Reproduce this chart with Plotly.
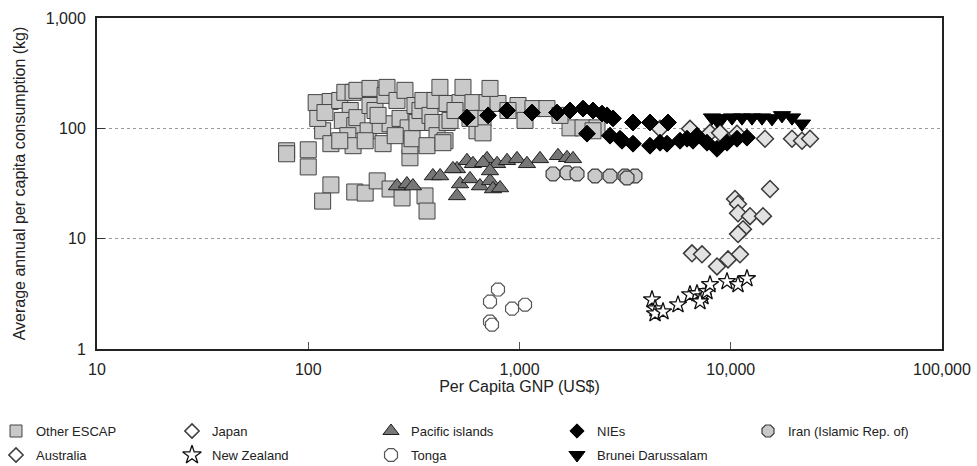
import plotly.graph_objects as go

# Per capita GNP (US$) and average annual per capita consumption (kg)
other_escap_gnp = [79, 79, 100, 100, 109, 127, 117, 128, 128, 117, 111, 120, 141, 149, 163,
                   158, 145, 166, 154, 170, 170, 163, 166, 141, 186, 196, 212, 196, 207, 192,
                   219, 231, 236, 244, 226, 214, 186, 244, 272, 263, 287, 297, 303, 303, 278,
                   320, 327, 258, 310, 338, 349, 357, 365, 377, 389, 398, 420, 407, 444, 454,
                   454, 365, 434, 469, 523, 540, 602, 629, 672, 702, 672, 791, 725, 583, 495,
                   984, 1158, 1349, 1734, 1998, 2328, 882, 1062, 1555, 2228]
other_escap_kg = [62.6, 58.8, 63.9, 44.7, 171, 175, 95, 72.6, 30.7, 21.9, 123, 139, 179, 212, 212,
                  145, 118, 106, 85.8, 125, 221, 69.6, 26.5, 77.2, 25.9, 230, 33.4, 161, 145, 95,
                  106, 199, 235, 110, 72.6, 131, 77.2, 28.2, 123, 179, 221, 101, 54.1, 69.6, 23.4,
                  161, 113, 85.8, 80.5, 145, 179, 24.4, 17.8, 131, 113, 179, 235, 85.8, 77.2, 168,
                  113, 69.6, 74.1, 118, 171, 235, 171, 95, 123, 171, 91, 168, 230, 123, 145,
                  161, 151, 151, 101, 101, 101, 145, 118, 131, 95]

japan_gnp = [4627, 6413, 7977, 8895, 10705, 14525, 19498, 21744, 23725]
japan_kg = [99, 99, 91, 91, 89.5, 80.5, 80.5, 77.2, 80.5]

pacific_gnp = [263, 293, 313, 389, 421, 506, 564, 602, 702, 783, 873, 973, 1085, 1250, 1521,
               1679, 1792, 506, 523, 583, 650, 725, 749, 809, 484, 672, 725]
pacific_kg = [30.0, 31.3, 30.0, 37.0, 37.0, 42.9, 50.8, 47.7, 52.9, 47.7, 50.8, 52.9, 47.7, 52.9, 56.4,
              54.1, 52.9, 24.4, 31.3, 34.8, 30.0, 33.4, 28.2, 28.8, 42.9, 48.7, 41.1]

nies_gnp = [564, 710, 873, 1146, 1505, 1734, 1998, 2228, 2458, 2771, 2087, 2682, 3057, 3446, 4147,
            5047, 3446, 4147, 4992, 5752, 6626, 7720, 8608, 9600, 10705, 11935, 2596, 2991, 4627,
            6207, 6922]
nies_kg = [125, 131, 145, 139, 139, 145, 151, 145, 136, 123, 89.5, 85.8, 77.2, 113, 113,
           113, 72.6, 69.6, 72.6, 77.2, 77.2, 74.1, 65.3, 74.1, 80.5, 82.3, 131, 80.5, 74.1,
           80.5, 85.8]

iran_gnp = [1441, 1679, 1872, 2278, 2682, 3157, 3522, 3228]
iran_kg = [38.6, 39.5, 38.6, 37.0, 37.0, 37.0, 37.0, 35.5]

australia_gnp = [15342, 10474, 10822, 10822, 12334, 14213, 11429, 10822, 6553, 7310, 8608, 9706, 11060]
australia_kg = [28.2, 22.9, 20.6, 17.0, 16.0, 16.0, 12.2, 11.0, 7.36, 7.21, 5.60, 6.49, 7.21]

nz_gnp = [4239, 4381, 4381, 4779, 5628, 6413, 6922, 7391, 7152, 7720, 7977, 9600, 10822, 11935]
nz_kg = [2.80, 2.32, 2.09, 2.18, 2.52, 3.11, 3.18, 2.98, 2.69, 3.32, 3.84, 4.09, 3.84, 4.35]

tonga_gnp = [791, 725, 922, 1062, 725, 741]
tonga_kg = [3.46, 2.69, 2.32, 2.52, 1.77, 1.66]

brunei_gnp = [8153, 8608, 9091, 10137, 11305, 12605, 14060, 15680, 17480, 19498, 21744]
brunei_kg = [125, 118, 123, 125, 125, 125, 125, 123, 131, 125, 110]

x_tick_vals = [10, 100, 1000, 10000, 100000]
x_tick_text = ["10", "100", "1,000", "10,000", "100,000"]
y_tick_vals = [1, 10, 100, 1000]
y_tick_text = ["1", "10", "100", "1,000"]

FONT = "Liberation Sans, Arial, sans-serif"
W, H = 977, 466

# name, x, y, symbol, size, fill, edge, edge width, key fill, key size
series = [
    ("Other ESCAP", other_escap_gnp, other_escap_kg, "square", 16, "#c9c9c9", "#444444", 1, "#c9c9c9", 12),
    ("Japan", japan_gnp, japan_kg, "diamond", 13, "#e2e2e2", "#3a3a3a", 1.5, "#ffffff", 11),
    ("Pacific islands", pacific_gnp, pacific_kg, "triangle-up", 15, "#777777", "#1e1e1e", 1, "#777777", 14),
    ("NIEs", nies_gnp, nies_kg, "diamond", 13, "#000000", "#000000", 1, "#000000", 11),
    ("Iran (Islamic Rep. of)", iran_gnp, iran_kg, "octagon", 15, "#c9c9c9", "#3a3a3a", 1.2, "#c9c9c9", 13),
    ("Australia", australia_gnp, australia_kg, "diamond", 13, "#e2e2e2", "#3a3a3a", 1.5, "#ffffff", 11),
    ("New Zealand", nz_gnp, nz_kg, "star", 13, "#ffffff", "#111111", 1.3, "#ffffff", 14),
    ("Tonga", tonga_gnp, tonga_kg, "octagon", 14, "#ffffff", "#555555", 1.2, "#ffffff", 14),
    ("Brunei Darussalam", brunei_gnp, brunei_kg, "triangle-down", 15, "#000000", "#000000", 1, "#000000", 14),
]

# key layout (pixels from the top-left of the figure)
key_cols = [16, 192, 391, 577, 768]
key_rows = [431, 455]

fig = go.Figure()
for name, xs, ys, sym, size, fill, edge, lw, _, _ in series:
    fig.add_trace(go.Scatter(
        x=xs, y=ys, mode="markers", name=name, showlegend=False,
        marker=dict(symbol=sym, size=size, color=fill, line=dict(color=edge, width=lw)),
        xaxis="x", yaxis="y",
    ))

# key drawn on a full-figure pixel axis pair beneath the chart
for i, (name, _, _, sym, _, _, edge, lw, kfill, ksize) in enumerate(series):
    kx = key_cols[i % 5]
    ky = key_rows[i // 5]
    fig.add_trace(go.Scatter(
        x=[kx], y=[ky], mode="markers", showlegend=False, hoverinfo="skip",
        marker=dict(symbol=sym, size=ksize, color=kfill, line=dict(color=edge, width=lw)),
        xaxis="x2", yaxis="y2",
    ))
    fig.add_annotation(
        x=kx + 18, y=ky, xref="x2", yref="y2", text=name, showarrow=False,
        xanchor="left", yanchor="middle",
        font=dict(size=13, family=FONT, color="#222222"),
    )

fig.update_layout(
    width=W, height=H,
    margin=dict(l=0, r=0, t=0, b=0),
    paper_bgcolor="white", plot_bgcolor="rgba(0,0,0,0)",
    font=dict(family=FONT, color="#222222", size=16),
    showlegend=False,
    xaxis=dict(
        domain=[97 / W, 942 / W], anchor="y",
        type="log", range=[1, 5],
        tickvals=x_tick_vals, ticktext=x_tick_text,
        ticks="inside", ticklen=7, tickcolor="#555555", tickwidth=1,
        ticklabelstandoff=5,
        showgrid=False, zeroline=False,
        showline=True, linecolor="#222222", linewidth=2, mirror=True,
        tickfont=dict(size=16), automargin=False,
        title=dict(text="Per Capita GNP (US$)", font=dict(size=16), standoff=4),
    ),
    yaxis=dict(
        domain=[1 - 349 / H, 1 - 18 / H], anchor="x",
        type="log", range=[0, 3],
        tickvals=y_tick_vals, ticktext=y_tick_text,
        ticks="inside", ticklen=8, tickcolor="#333333", tickwidth=1,
        ticklabelstandoff=6,
        showgrid=True, gridcolor="#9a9a9a", griddash="dot", gridwidth=1,
        zeroline=False,
        showline=True, linecolor="#222222", linewidth=2, mirror=True,
        tickfont=dict(size=16), automargin=False,
        title=dict(text="Average annual per capita consumption (kg)", font=dict(size=16), standoff=16),
    ),
    xaxis2=dict(domain=[0, 1], range=[0, W], visible=False, anchor="y2", fixedrange=True),
    yaxis2=dict(domain=[0, 1], range=[H, 0], visible=False, anchor="x2", fixedrange=True),
)

fig.write_html("out.html")
